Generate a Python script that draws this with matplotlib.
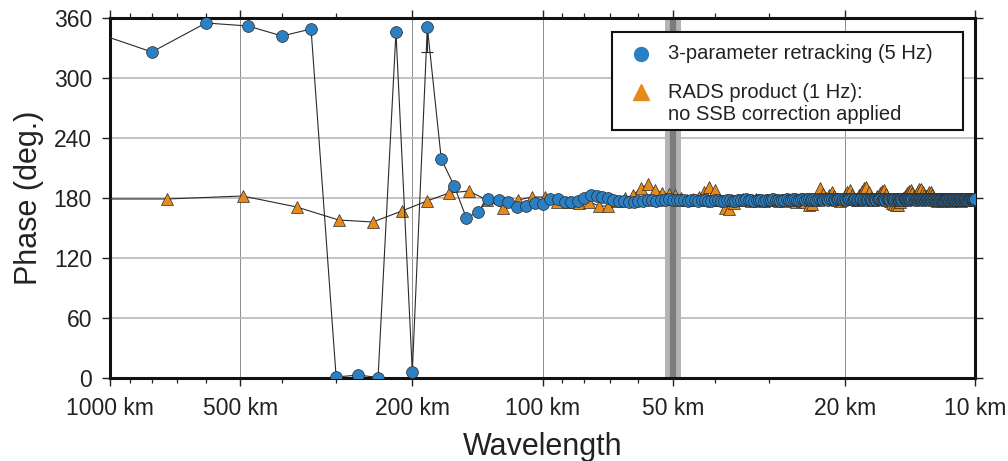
import numpy as np
import matplotlib.pyplot as plt
from matplotlib.patches import Rectangle
from matplotlib.ticker import FixedLocator, FixedFormatter, NullFormatter

plt.rcParams['font.family'] = ['Liberation Sans', 'DejaVu Sans']

# spectral estimates sit at wavelength = record_length / k
blue_length = 2400   # km, 3-parameter retracking (5 Hz)
rads_length = 1480   # km, RADS product (1 Hz)
blue_k0 = 2
rads_k0 = 1

# phase (deg.) for k = 2 .. 240
blue_phase = [
    352, 326, 355, 352, 342, 349, 1, 3, 0.5,
    346, 6, 351, 219, 192, 160, 166, 179, 178, 176,
    171, 172, 175, 174, 179, 179, 176, 176, 177, 180,
    183, 182, 181, 180, 178, 177, 177, 176, 176, 177,
    177, 178, 178, 177, 178, 178, 179, 178, 178, 178,
    178, 177, 178, 178, 177, 178, 178, 177, 177, 178,
    178, 177, 177, 178, 178, 177, 177, 178, 178, 178,
    179, 178, 178, 177, 178, 178, 178, 177, 178, 178,
    178, 179, 178, 178, 177, 178, 178, 179, 178, 178,
    179, 179, 178, 178, 179, 179, 178, 179, 179, 178,
    179, 179, 178, 179, 179, 179, 178, 179, 179, 178,
    179, 179, 179, 178, 179, 179, 179, 178, 179, 179,
    178, 179, 179, 179, 178, 179, 179, 178, 179, 179,
    179, 178, 179, 179, 178, 179, 179, 179, 178, 179,
    179, 178, 179, 179, 179, 178, 179, 179, 178, 179,
    179, 179, 178, 179, 179, 178, 179, 179, 179, 178,
    179, 179, 178, 179, 179, 179, 178, 179, 179, 178,
    179, 179, 179, 178, 179, 179, 178, 179, 179, 179,
    178, 179, 179, 178, 179, 179, 179, 178, 179, 179,
    178, 179, 179, 179, 178, 179, 179, 178, 179, 179,
    179, 178, 179, 179, 178, 179, 179, 179, 178, 179,
    179, 178, 179, 179, 179, 178, 179, 179, 178, 179,
    179, 179, 178, 179, 179, 178, 179, 179, 179, 178,
    179, 179, 178, 179, 179, 179, 178, 179, 179, 179,
]

# phase (deg.) for k = 1 .. 148
rads_phase = [
    179, 179, 182, 171, 158, 156, 167, 177, 185, 187,
    178, 170, 178, 181, 181, 176, 176, 175, 176, 172,
    172, 177, 180, 183, 190, 194, 188, 185, 184, 183,
    180, 178, 179, 181, 186, 191, 188, 178, 170, 169,
    175, 178, 179, 178, 177, 179, 178, 177, 178, 179,
    178, 177, 178, 179, 178, 177, 176, 178, 177, 176,
    173, 174, 178, 183, 190, 184, 180, 183, 186, 182,
    178, 177, 179, 183, 186, 188, 183, 179, 178, 183,
    187, 190, 191, 186, 180, 178, 179, 182, 185, 187,
    188, 184, 179, 177, 175, 174, 173, 173, 176, 178,
    180, 182, 185, 187, 188, 185, 182, 183, 187, 189,
    189, 186, 183, 182, 184, 186, 186, 183, 180, 178,
    177, 178, 179, 178, 177, 178, 179, 178, 178, 177,
    178, 179, 178, 178, 179, 178, 177, 178, 178, 179,
    178, 178, 179, 178, 178, 179, 178, 179,
]

# error bars visible on two of the retracking estimates
blue_err_k = [11, 13]
blue_err_lo = [0.5, 25]

x_ticks = [1000, 500, 200, 100, 50, 20, 10]
x_labels = ['1000 km', '500 km', '200 km', '100 km', '50 km', '20 km', '10 km']
x_minor = [900, 800, 700, 600, 400, 300, 90, 80, 70, 60, 40, 30]
y_ticks = [0, 60, 120, 180, 240, 300, 360]
band_km = 50

legend_labels = ['3-parameter retracking (5 Hz)', 'RADS product (1 Hz):',
                 'no SSB correction applied']

blue = '#2b80c3'
orange = '#e8891b'
edge = '#2a2a2a'
ink = '#222222'

blue_wl = blue_length / np.arange(blue_k0, blue_k0 + len(blue_phase))
rads_wl = rads_length / np.arange(rads_k0, rads_k0 + len(rads_phase))

fig = plt.figure(figsize=(10.08, 4.61), dpi=100)
ax = fig.add_axes([0.1091, 0.180, 0.8582, 0.781])

ax.axvline(band_km, color='#b4b4b4', lw=11.5, zorder=1)
ax.axvline(band_km, color='#7c7c7c', lw=4.5, zorder=1)

ax.plot(rads_wl, rads_phase, color=edge, lw=0.8, marker='^', ms=9,
        mfc=orange, mec=edge, mew=0.5, zorder=3)
ax.plot(blue_wl, blue_phase, color=edge, lw=0.8, marker='o', ms=8.5,
        mfc=blue, mec=edge, mew=0.5, zorder=4)

err_idx = [k - blue_k0 for k in blue_err_k]
ax.errorbar(blue_wl[err_idx], np.array(blue_phase)[err_idx],
            yerr=[blue_err_lo, [0] * len(blue_err_lo)], fmt='none',
            ecolor=edge, elinewidth=0.8, capsize=4.6, capthick=0.8, zorder=3.5)

ax.set_xscale('log')
ax.set_xlim(1000, 10)
ax.set_ylim(0, 360)
ax.xaxis.set_major_locator(FixedLocator(x_ticks))
ax.xaxis.set_major_formatter(FixedFormatter(x_labels))
ax.xaxis.set_minor_locator(FixedLocator(x_minor))
ax.xaxis.set_minor_formatter(NullFormatter())
ax.set_yticks(y_ticks)

ax.yaxis.grid(True, color='#b8b8b8', lw=1.2, zorder=0)
ax.xaxis.grid(True, which='major', color='#8c8c8c', lw=0.7, zorder=0)
ax.set_axisbelow(True)

for s in ax.spines.values():
    s.set_linewidth(2.2)
    s.set_color('#111111')
ax.tick_params(which='both', direction='out', top=True, right=True,
               color=ink, labelcolor=ink)
ax.tick_params(which='major', length=6, width=1.0, labelsize=16.5)
ax.tick_params(axis='x', which='major', pad=8)
ax.tick_params(axis='y', which='major', pad=7)
ax.tick_params(which='minor', length=3.5, width=0.9)

ax.set_xlabel('Wavelength', fontsize=22, color=ink, labelpad=8)
ax.set_ylabel('Phase (deg.)', fontsize=22, color=ink, labelpad=7)

# legend box, drawn by hand so the triangle sits on the first line
ax.add_patch(Rectangle((0.5803, 0.6880), 0.4058, 0.2730, transform=ax.transAxes,
                       facecolor='white', edgecolor='#111111', lw=1.5,
                       zorder=10, clip_on=False))
ax.plot([0.6138], [0.9000], transform=ax.transAxes, ls='none', marker='o',
        ms=10, mfc=blue, mec=blue, zorder=11, clip_on=False)
ax.plot([0.6138], [0.7944], transform=ax.transAxes, ls='none', marker='^',
        ms=11, mfc=orange, mec=orange, zorder=11, clip_on=False)
for lab, yy in zip(legend_labels, [0.9000, 0.7944, 0.7333]):
    ax.text(0.6451, yy, lab, transform=ax.transAxes, fontsize=14.5,
            color=ink, va='center', ha='left', zorder=11)

fig.savefig('out.png', dpi=100)
